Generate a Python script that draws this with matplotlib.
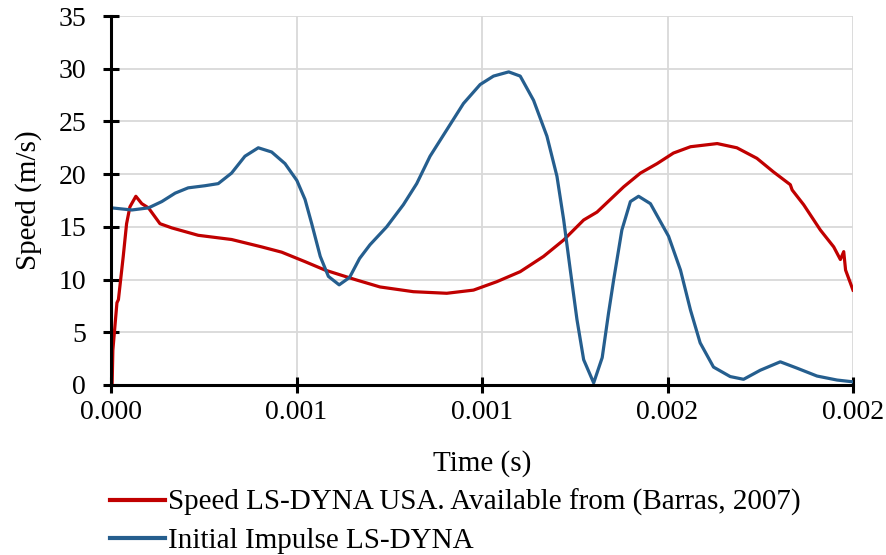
import numpy as np
import matplotlib.pyplot as plt
from matplotlib.lines import Line2D

plt.rcParams['font.family'] = ['Liberation Serif', 'DejaVu Serif']

# time in ms, speed in m/s
red_t_ms = [0.003, 0.005, 0.016, 0.020, 0.033, 0.042, 0.051, 0.067, 0.083, 0.101,
            0.132, 0.164, 0.235, 0.325, 0.406, 0.460, 0.523, 0.577, 0.631, 0.658,
            0.725, 0.815, 0.905, 0.977, 1.040, 1.103, 1.166, 1.220, 1.274, 1.310,
            1.346, 1.382, 1.427, 1.472, 1.516, 1.562, 1.634, 1.687, 1.741, 1.786,
            1.831, 1.836, 1.867, 1.912, 1.948, 1.966, 1.975, 1.980, 2.000]
red_v = [0.0, 3.3, 7.8, 8.1, 12.2, 15.3, 16.9, 17.9, 17.2, 16.8,
         15.3, 14.9, 14.2, 13.8, 13.1, 12.6, 11.7, 10.9, 10.3, 10.0,
         9.3, 8.85, 8.7, 9.0, 9.8, 10.75, 12.2, 13.75, 15.65, 16.4,
         17.6, 18.8, 20.1, 21.0, 22.0, 22.6, 22.9, 22.5, 21.5, 20.2,
         19.0, 18.5, 17.1, 14.7, 13.1, 11.9, 12.65, 10.9, 9.0]

blue_t_ms = [0.002, 0.056, 0.101, 0.137, 0.173, 0.208, 0.253, 0.289, 0.325, 0.361,
             0.397, 0.433, 0.469, 0.501, 0.523, 0.541, 0.564, 0.586, 0.615, 0.643,
             0.670, 0.698, 0.743, 0.788, 0.824, 0.860, 0.905, 0.950, 0.995, 1.031,
             1.072, 1.103, 1.139, 1.175, 1.202, 1.220, 1.238, 1.256, 1.274, 1.301,
             1.324, 1.341, 1.355, 1.377, 1.400, 1.422, 1.454, 1.503, 1.535, 1.562,
             1.588, 1.624, 1.669, 1.705, 1.750, 1.804, 1.849, 1.903, 1.957, 2.000]
blue_v = [16.8, 16.6, 16.8, 17.4, 18.2, 18.7, 18.9, 19.1, 20.1, 21.7,
          22.5, 22.1, 21.0, 19.4, 17.6, 15.3, 12.2, 10.3, 9.5, 10.2,
          12.0, 13.3, 15.0, 17.1, 19.1, 21.7, 24.2, 26.7, 28.5, 29.3,
          29.7, 29.3, 27.0, 23.6, 19.8, 15.7, 10.9, 6.2, 2.4, 0.2,
          2.6, 6.8, 10.0, 14.7, 17.4, 17.9, 17.2, 14.1, 10.9, 7.1,
          4.0, 1.7, 0.8, 0.54, 1.4, 2.2, 1.6, 0.85, 0.47, 0.3]

x_ticks = [0.0, 0.0005, 0.001, 0.0015, 0.002]
x_tick_labels = ['0.000', '0.001', '0.001', '0.002', '0.002']
y_ticks = [0, 5, 10, 15, 20, 25, 30, 35]

red_label = 'Speed LS-DYNA USA. Available from (Barras, 2007)'
blue_label = 'Initial Impulse LS-DYNA'
red_col = '#C00000'
blue_col = '#255E8E'

fig = plt.figure(figsize=(8.86, 5.55), dpi=100)
ax = fig.add_axes([111/886, 1-385/555, (853-111)/886, (385-16)/555])

ax.plot(np.array(red_t_ms)*1e-3, red_v, color=red_col, lw=2.3, zorder=3)
ax.plot(np.array(blue_t_ms)*1e-3, blue_v, color=blue_col, lw=2.3, zorder=3)

ax.set_xlim(0, 0.002)
ax.set_ylim(0, 35)
ax.set_xticks(x_ticks)
ax.set_xticklabels(x_tick_labels)
ax.set_yticks(y_ticks)
ax.grid(True, color='#D9D9D9', lw=1.3, zorder=0)
ax.set_axisbelow(True)
for s in ['top', 'right']:
    ax.spines[s].set_visible(False)
for s in ['left', 'bottom']:
    ax.spines[s].set_linewidth(2.2)
    ax.spines[s].set_zorder(4)
ax.tick_params(direction='inout', length=12, width=2.2, labelsize=20)
ax.tick_params(axis='x', pad=5)
ax.tick_params(axis='y', pad=12)
ax.set_ylabel('Speed (m/s)', fontsize=21, labelpad=12)
ax.set_xlabel('Time (s)', fontsize=21, labelpad=18)

handles = [Line2D([], [], color=red_col, lw=3), Line2D([], [], color=blue_col, lw=3)]
fig.legend(handles, [red_label, blue_label], loc='upper left',
           bbox_to_anchor=(110/886, 1-489/555), frameon=False, fontsize=21,
           handlelength=1.9, handletextpad=0.1, labelspacing=0.38,
           borderpad=0, borderaxespad=0)

fig.savefig('out.png', dpi=100)
